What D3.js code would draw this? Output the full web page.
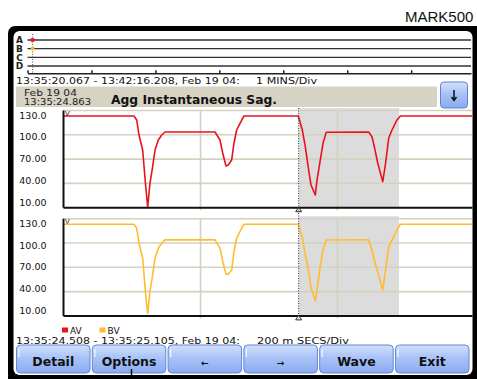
<!DOCTYPE html>
<html><head><meta charset="utf-8">
<script src="https://cdn.jsdelivr.net/npm/d3@7"></script>
<style>html,body{margin:0;padding:0;background:#fff;overflow:hidden}</style>
</head><body>
<svg id="c" width="477" height="379"></svg>
<script>
// ---------- data ----------
const channels = ["A", "B", "C", "D"];
const overviewSpanSec = 416.141;            // 13:35:20.067 - 13:42:16.208
const overviewTicksSec = [0, 60, 120, 180, 240, 300, 360];
const overviewCursorSec = 4.796;            // 13:35:24.863
const overviewText = "13:35:20.067 - 13:42:16.208, Feb 19 04:";
const overviewDiv = "1 MINS/Div";
const cursorDate = "Feb 19 04";
const cursorTime = "13:35:24.863";
const title = "Agg Instantaneous Sag.";

const spanMs = 597;                         // 13:35:24.508 - 13:35:25.105
const xGridMs = [200, 400];
const cursorMs = 344;
const shadeEndMs = 490.5;
const yTicks = [10, 40, 70, 100, 130];
const yTickLabels = ["10.00", "40.00", "70.00", "100.0", "130.0"];

const timeMs = [0, 103.6, 107.6, 110.9, 116.3, 118.7, 121.2, 123.6, 127, 130.9, 134.3, 139.1, 144.1, 148.9,
  221.9, 229.2, 233.1, 237.9, 241.3, 246.2, 249.6, 253.5, 258.4, 264.2,
  343.5, 349.3, 353.7, 358.6, 362, 368.3, 370.8, 375.6, 379.5, 384.3,
  446.2, 451, 454.4, 459.4, 466.7, 470.5, 475.4, 480.2, 487.5, 492.4, 597];
const avValues = [122.6, 122.6, 117.7, 99.1, 80.6, 55.9, 31.2, 10.2, 39.9, 60, 80.6, 93, 99.1, 102.8,
  102.8, 93, 76.9, 60.9, 62.1, 68.3, 89.3, 105.3, 113.6, 122.6,
  122.6, 105.3, 84.7, 55.9, 37.4, 25.1, 43.6, 68.3, 88.9, 102.5,
  102.8, 97, 84.7, 64.6, 41.5, 62.1, 95.1, 105.3, 117.7, 122.6, 122.6];
const bvValues = [122.6, 122.6, 117.7, 99.1, 80.6, 55.9, 31.2, 12.5, 39.9, 60, 80.6, 93, 99.1, 103.2,
  103.2, 93, 76.9, 61, 61, 66, 89.3, 105.3, 113.6, 122.6,
  122.6, 106, 84.6, 63.6, 43.8, 28, 41.4, 72, 90.7, 103,
  103.2, 90.7, 78, 63.6, 41.3, 64, 94.8, 103, 115.4, 122.6, 122.6];
const seriesNames = ["AV", "BV"];
const seriesColors = ["#e8121c", "#ffbd2e"];
const detailText = "13:35:24.508 - 13:35:25.105, Feb 19 04:";
const detailDiv = "200 m SECS/Div";
const buttons = ["Detail", "Options", "\u2190", "\u2192", "Wave", "Exit"];

// ---------- drawing ----------
const svg = d3.select("#c");
const FONT = "DejaVu Sans, Verdana, sans-serif";
const defs = svg.append("defs");
const grad = defs.append("linearGradient").attr("id", "btn").attr("x1", 0).attr("y1", 0).attr("x2", 0).attr("y2", 1);
grad.append("stop").attr("offset", "0%").attr("stop-color", "#d2e0fc");
grad.append("stop").attr("offset", "45%").attr("stop-color", "#a9c3f7");
grad.append("stop").attr("offset", "100%").attr("stop-color", "#8aabf0");

svg.append("text").attr("x", 405).attr("y", 22).attr("font-family", "Liberation Sans, Arial, sans-serif")
  .attr("font-size", 15).attr("fill", "#111").text("MARK500");

// device frame
svg.append("rect").attr("x", 8).attr("y", 26).attr("width", 480).attr("height", 370).attr("rx", 7).attr("fill", "#000");
svg.append("rect").attr("x", 13.5).attr("y", 31).attr("width", 459).attr("height", 344).attr("rx", 6).attr("fill", "#fff");

// overview strip
const yCh = d3.scalePoint().domain(channels).range([40, 66]);
const xOv = d3.scaleLinear().domain([0, overviewSpanSec]).range([27.5, 471]);
svg.append("g").selectAll("line").data(channels).join("line")
  .attr("x1", xOv(0)).attr("x2", xOv(overviewSpanSec))
  .attr("y1", d => yCh(d)).attr("y2", d => yCh(d))
  .attr("stroke", "#333").attr("stroke-width", 1.4);
svg.append("g").selectAll("text").data(channels).join("text")
  .attr("x", 19.5).attr("y", d => yCh(d)).attr("dy", "0.36em")
  .attr("text-anchor", "middle").attr("font-family", FONT).attr("font-size", 9).attr("font-weight", "bold")
  .attr("fill", "#222").text(d => d);
const ovAxis = svg.append("g").attr("transform", "translate(0,73.3)")
  .call(d3.axisBottom(xOv).tickValues(overviewTicksSec).tickSize(-3).tickSizeOuter(0).tickFormat(""));
ovAxis.selectAll("path,line").attr("stroke", "#222").attr("stroke-width", 1.5);
const xc0 = xOv(overviewCursorSec);
svg.append("line").attr("x1", xc0).attr("x2", xc0).attr("y1", 34).attr("y2", 73)
  .attr("stroke", "#555").attr("stroke-width", 1).attr("stroke-dasharray", "1,1.5");
svg.append("g").selectAll("rect").data(["A", "B"]).join("rect")
  .attr("x", xc0 - 1.8).attr("y", d => yCh(d) - 1.8).attr("width", 3.6).attr("height", 3.6)
  .attr("fill", (d, i) => seriesColors[i]);

svg.append("text").attr("x", 16).attr("y", 84).attr("font-family", FONT).attr("font-size", 9)
  .attr("textLength", 224).attr("lengthAdjust", "spacingAndGlyphs").attr("fill", "#111").text(overviewText);
svg.append("text").attr("x", 256).attr("y", 84).attr("font-family", FONT).attr("font-size", 9)
  .attr("textLength", 61).attr("lengthAdjust", "spacingAndGlyphs").attr("fill", "#111").text(overviewDiv);

// header bar
svg.append("rect").attr("x", 16).attr("y", 86.5).attr("width", 421).attr("height", 20.5).attr("fill", "#d6d3c4");
svg.append("text").attr("x", 24).attr("y", 95.5).attr("font-family", FONT).attr("font-size", 8.5)
  .attr("textLength", 53).attr("lengthAdjust", "spacingAndGlyphs").attr("fill", "#222").text(cursorDate);
svg.append("text").attr("x", 24).attr("y", 104.5).attr("font-family", FONT).attr("font-size", 8.5)
  .attr("textLength", 67).attr("lengthAdjust", "spacingAndGlyphs").attr("fill", "#222").text(cursorTime);
svg.append("text").attr("x", 111).attr("y", 104).attr("font-family", FONT).attr("font-size", 11.5).attr("font-weight", "bold")
  .attr("textLength", 166).attr("lengthAdjust", "spacingAndGlyphs").attr("fill", "#111").text(title);
svg.append("rect").attr("x", 440.5).attr("y", 82).attr("width", 27).attr("height", 26).attr("rx", 3.5)
  .attr("fill", "url(#btn)").attr("stroke", "#5f82d4").attr("stroke-width", 1);
svg.append("path").attr("d", "M454,90V100M451.5,97L454,100.5L456.5,97").attr("fill", "none")
  .attr("stroke", "#111").attr("stroke-width", 1.5);

// charts
const x = d3.scaleLinear().domain([0, spanMs]).range([63, 472]);
function chart(top, bottom, values, color) {
  const y = d3.scaleLinear().domain([10, 130]).range([bottom, top]);
  const yLab = d3.scaleLinear().domain([10, 130]).range([bottom - 4.8, top + 5]);
  const g = svg.append("g");
  g.append("rect").attr("x", x(cursorMs)).attr("y", top - 2).attr("width", x(shadeEndMs) - x(cursorMs))
    .attr("height", bottom - top + 2).attr("fill", "#dcdcdc");
  const hg = g.append("g").attr("transform", `translate(${x(0)},0)`)
    .call(d3.axisLeft(y).tickValues(yTicks.slice(1)).tickSize(-(x(spanMs) - x(0))).tickFormat(""));
  hg.select(".domain").remove();
  hg.selectAll("line").attr("stroke", "#d4d1c1").attr("stroke-width", 1.6);
  const vg = g.append("g").attr("transform", `translate(0,${top})`)
    .call(d3.axisTop(x).tickValues(xGridMs).tickSize(-(bottom - top + 3)).tickFormat(""));
  vg.select(".domain").remove();
  vg.selectAll("line").attr("stroke", "#d4d1c1").attr("stroke-width", 1.6);
  const lg = g.append("g").attr("transform", "translate(46.5,0)")
    .call(d3.axisLeft(yLab).tickValues(yTicks).tickSize(0).tickPadding(0).tickFormat((d, i) => yTickLabels[i]));
  lg.select(".domain").remove();
  lg.selectAll("text").attr("font-family", FONT).attr("font-size", 9.5).attr("fill", "#111");
  g.append("text").attr("x", 65).attr("y", top + 6).attr("font-family", FONT).attr("font-size", 7).attr("fill", "#222").text("V");
  g.append("path").datum(values).attr("fill", "none").attr("stroke", color).attr("stroke-width", 1.6)
    .attr("stroke-linejoin", "round")
    .attr("d", d3.line().x((d, i) => x(timeMs[i])).y(d => y(d)));
  const ax = g.append("g").attr("transform", `translate(0,${bottom})`)
    .call(d3.axisBottom(x).tickValues([]).tickSizeOuter(0));
  ax.select(".domain").attr("stroke", "#111").attr("stroke-width", 2);
  const ay = g.append("g").attr("transform", `translate(${x(0)},0)`)
    .call(d3.axisLeft(y).tickValues([]).tickSizeOuter(0));
  ay.select(".domain").attr("stroke", "#111").attr("stroke-width", 2);
  const xc = x(cursorMs);
  g.append("path").attr("d", `M${xc - 3},${bottom + 4.5}L${xc},${bottom}L${xc + 3},${bottom + 4.5}Z`)
    .attr("fill", "#e8e8e8").attr("stroke", "#333").attr("stroke-width", 1);
}
chart(110, 207.2, avValues, seriesColors[0]);
chart(218.2, 315.4, bvValues, seriesColors[1]);
svg.append("line").attr("x1", x(cursorMs)).attr("x2", x(cursorMs)).attr("y1", 108).attr("y2", 315)
  .attr("stroke", "#333").attr("stroke-width", 1).attr("stroke-dasharray", "1,1.5");

// legend
const leg = svg.append("g").selectAll("g").data(seriesNames).join("g")
  .attr("transform", (d, i) => `translate(${62 + i * 37.5},0)`);
leg.append("rect").attr("x", 0).attr("y", 327.5).attr("width", 6).attr("height", 5).attr("fill", (d, i) => seriesColors[i]);
leg.append("text").attr("x", 8).attr("y", 333.5).attr("font-family", FONT).attr("font-size", 9)
  .attr("fill", "#111").text(d => d);

svg.append("text").attr("x", 16).attr("y", 344).attr("font-family", FONT).attr("font-size", 9)
  .attr("textLength", 224).attr("lengthAdjust", "spacingAndGlyphs").attr("fill", "#111").text(detailText);
svg.append("text").attr("x", 257).attr("y", 344).attr("font-family", FONT).attr("font-size", 9)
  .attr("textLength", 92).attr("lengthAdjust", "spacingAndGlyphs").attr("fill", "#111").text(detailDiv);

// buttons
const bx = d3.scaleBand().domain(buttons).range([16.5, 469]).paddingInner(0.03);
const bg = svg.append("g").selectAll("g").data(buttons).join("g")
  .attr("transform", d => `translate(${bx(d)},345)`);
bg.append("rect").attr("width", bx.bandwidth()).attr("height", 28).attr("rx", 4)
  .attr("fill", "url(#btn)").attr("stroke", "#6486d6").attr("stroke-width", 1);
bg.append("line").attr("x1", 2.5).attr("x2", 2.5).attr("y1", 4).attr("y2", 12).attr("stroke", "#f4f8ff").attr("stroke-width", 1.2);
bg.append("text").attr("x", bx.bandwidth() / 2).attr("y", 21).attr("text-anchor", "middle")
  .attr("font-family", FONT).attr("font-weight", "bold")
  .attr("font-size", (d, i) => (i === 2 || i === 3) ? 9 : 12.5).attr("fill", "#111").text(d => d);
svg.append("line").attr("x1", 131.5).attr("x2", 131.5).attr("y1", 369).attr("y2", 379).attr("stroke", "#000").attr("stroke-width", 1.5);
</script>
</body></html>
